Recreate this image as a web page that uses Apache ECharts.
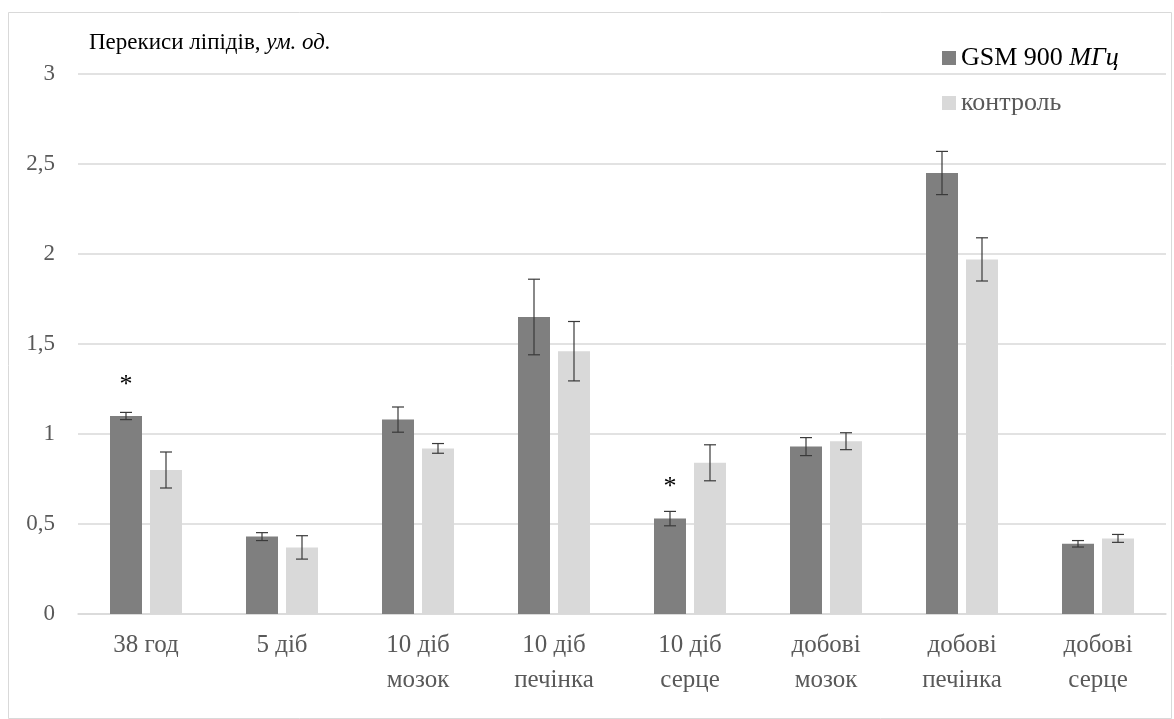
<!DOCTYPE html>
<html>
<head>
<meta charset="utf-8">
<script src="https://cdn.jsdelivr.net/npm/echarts@6/dist/echarts.min.js"></script>
<style>
  html, body { margin: 0; padding: 0; background: #fff; }
  #chart { width: 1174px; height: 719px; }
</style>
</head>
<body>
<div id="chart"></div>
<script>
// Lipid peroxides, arbitrary units: GSM 900 MHz exposure vs control
const categories = ['38 год', '5 діб', '10 діб\nмозок', '10 діб\nпечінка', '10 діб\nсерце',
                    'добові\nмозок', 'добові\nпечінка', 'добові\nсерце'];
const gsmValues     = [1.10, 0.43, 1.08, 1.65, 0.53, 0.93, 2.45, 0.39];
const gsmErrors     = [0.02, 0.022, 0.07, 0.21, 0.04, 0.05, 0.12, 0.018];
const controlValues = [0.80, 0.37, 0.92, 1.46, 0.84, 0.96, 1.97, 0.42];
const controlErrors = [0.10, 0.065, 0.027, 0.165, 0.10, 0.047, 0.12, 0.022];
const significant   = [true, false, false, false, true, false, false, false];
const yTicks = [0, 0.5, 1, 1.5, 2, 2.5, 3];

const gsmName = 'GSM 900 МГц';
const controlName = 'контроль';
const FONT = '"Liberation Serif", "Times New Roman", serif';
const BAR_W = 32;
const BAR_GAP = 8;
const OFFSET = (BAR_W + BAR_GAP) / 2;

function errorBarSeries(values, errors, offset) {
  return {
    type: 'custom',
    z: 5,
    silent: true,
    data: values.map((v, i) => [i, v, errors[i]]),
    encode: { x: 0, y: 1 },
    renderItem: function (params, api) {
      const i = api.value(0), v = api.value(1), e = api.value(2);
      const x = api.coord([i, v])[0] + offset;
      const yHi = api.coord([i, v + e])[1];
      const yLo = api.coord([i, v - e])[1];
      const cap = 6;
      const style = { stroke: '#3a3a3a', lineWidth: 1.2 };
      return {
        type: 'group',
        children: [
          { type: 'line', shape: { x1: x, y1: yHi, x2: x, y2: yLo }, style: style },
          { type: 'line', shape: { x1: x - cap, y1: yHi, x2: x + cap, y2: yHi }, style: style },
          { type: 'line', shape: { x1: x - cap, y1: yLo, x2: x + cap, y2: yLo }, style: style }
        ]
      };
    }
  };
}

const chart = echarts.init(document.getElementById('chart'), null, { renderer: 'canvas' });

chart.setOption({
  animation: false,
  backgroundColor: '#fff',
  textStyle: { fontFamily: FONT },
  title: {
    text: '{n|Перекиси ліпідів, }{i|ум. од.}',
    left: 84,
    top: 26,
    textStyle: {
      fontWeight: 'normal',
      rich: {
        n: { fontFamily: FONT, fontSize: 23, fontWeight: 'normal', color: '#000' },
        i: { fontFamily: FONT, fontSize: 23, fontWeight: 'normal', color: '#000', fontStyle: 'italic' }
      }
    }
  },
  legend: {
    orient: 'vertical',
    left: 937,
    top: 40,
    itemWidth: 14,
    itemHeight: 14,
    itemGap: 19,
    icon: 'rect',
    selectedMode: false,
    data: [gsmName, controlName],
    formatter: function (name) {
      return name === gsmName ? '{a|GSM 900 }{i|МГц}' : '{b|' + name + '}';
    },
    textStyle: {
      rich: {
        a: { fontFamily: FONT, fontSize: 26, color: '#000', lineHeight: 28 },
        i: { fontFamily: FONT, fontSize: 26, color: '#000', fontStyle: 'italic', lineHeight: 28 },
        b: { fontFamily: FONT, fontSize: 26, color: '#595959', lineHeight: 28 }
      }
    }
  },
  grid: { left: 78, right: 8, top: 74, bottom: 105, containLabel: false },
  xAxis: {
    type: 'category',
    data: categories,
    axisLine: { lineStyle: { color: '#d9d9d9', width: 1.5 } },
    axisTick: { show: false },
    axisLabel: {
      color: '#595959',
      fontFamily: FONT,
      fontSize: 25,
      lineHeight: 35,
      margin: 14,
      interval: 0
    }
  },
  yAxis: {
    type: 'value',
    min: yTicks[0],
    max: yTicks[yTicks.length - 1],
    interval: 0.5,
    axisLine: { show: false },
    axisTick: { show: false },
    splitLine: { lineStyle: { color: '#d9d9d9', width: 1.5 } },
    axisLabel: {
      color: '#595959',
      fontFamily: FONT,
      fontSize: 23,
      margin: 23,
      formatter: v => String(v).replace('.', ',')
    }
  },
  series: [
    {
      name: gsmName,
      type: 'bar',
      barWidth: BAR_W,
      barGap: (BAR_GAP / BAR_W * 100) + '%',
      itemStyle: { color: '#7f7f7f' },
      data: gsmValues.map((v, i) => significant[i] ? {
        value: v,
        label: {
          show: true,
          position: 'top',
          distance: 18,
          formatter: '*',
          color: '#000',
          fontFamily: FONT,
          fontSize: 26
        }
      } : v)
    },
    {
      name: controlName,
      type: 'bar',
      barWidth: BAR_W,
      itemStyle: { color: '#d9d9d9' },
      data: controlValues
    },
    errorBarSeries(gsmValues, gsmErrors, -OFFSET),
    errorBarSeries(controlValues, controlErrors, OFFSET)
  ],
  graphic: [
    {
      type: 'rect',
      silent: true,
      shape: { x: 8.5, y: 12.5, width: 1163, height: 706 },
      style: { fill: null, stroke: '#d9d9d9', lineWidth: 1 }
    }
  ]
});
</script>
</body>
</html>
